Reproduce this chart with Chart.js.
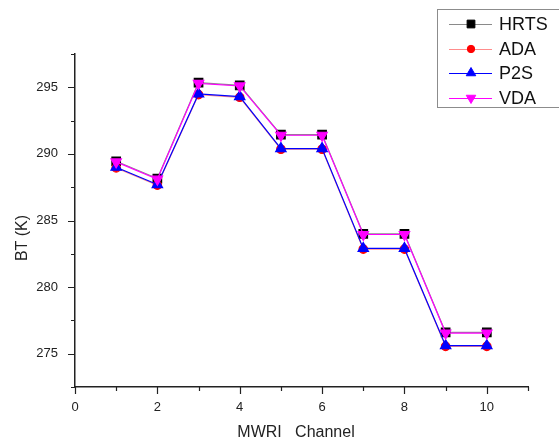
<!DOCTYPE html>
<html>
<head>
<meta charset="utf-8">
<script src="https://cdn.jsdelivr.net/npm/chart.js@4/dist/chart.umd.min.js"></script>
<style>
  html, body { margin: 0; padding: 0; background: #fff; }
  canvas { display: block; }
</style>
</head>
<body>
<canvas id="bt-chart" width="559" height="443"></canvas>
<script>
// MWRI channels and brightness temperatures (K) per method
const channels = [1, 2, 3, 4, 5, 6, 7, 8, 9, 10];
const hrts = [289.45, 288.15, 295.35, 295.15, 291.45, 291.45, 284.0, 284.0, 276.6, 276.6];
const ada = [288.95, 287.65, 294.45, 294.25, 290.35, 290.35, 282.85, 282.85, 275.55, 275.55];
const p2s = [289.0, 287.7, 294.5, 294.3, 290.4, 290.4, 282.9, 282.9, 275.6, 275.6];
const vda = [289.4, 288.1, 295.3, 295.1, 291.4, 291.4, 283.95, 283.95, 276.55, 276.55];

// axis ticks
const xMajorTicks = [0, 2, 4, 6, 8, 10];
const xMinorTicks = [1, 3, 5, 7, 9, 11];
const yMajorTicks = [275, 280, 285, 290, 295];
const yMinorTicks = [272.5, 277.5, 282.5, 287.5, 292.5, 297.5];

const FONT = "'Liberation Sans', Arial, sans-serif";
const canvas = document.getElementById("bt-chart");

function toPoints(values) {
    return channels.map((c, i) => ({ x: c, y: values[i] }));
}

// Tick marks, axis titles and the boxed legend
const decorPlugin = {
    id: "decor",
    afterDraw(chart) {
        const ctx = chart.ctx;
        const xs = chart.scales.x;
        const ys = chart.scales.y;
        const area = chart.chartArea;

        ctx.save();
        ctx.strokeStyle = "#222";
        ctx.lineWidth = 1.2;
        ctx.beginPath();
        yMajorTicks.forEach((v) => {
            const py = Math.round(ys.getPixelForValue(v)) + 0.5;
            ctx.moveTo(area.left, py);
            ctx.lineTo(area.left - 7, py);
        });
        yMinorTicks.forEach((v) => {
            const py = Math.round(ys.getPixelForValue(v)) + 0.5;
            ctx.moveTo(area.left, py);
            ctx.lineTo(area.left - 4, py);
        });
        xMajorTicks.forEach((v) => {
            const px = Math.round(xs.getPixelForValue(v)) + 0.5;
            ctx.moveTo(px, area.bottom);
            ctx.lineTo(px, area.bottom + 7);
        });
        xMinorTicks.forEach((v) => {
            const px = Math.round(xs.getPixelForValue(v)) + 0.5;
            ctx.moveTo(px, area.bottom);
            ctx.lineTo(px, area.bottom + 4);
        });
        ctx.stroke();

        // axis titles
        ctx.fillStyle = "#222";
        ctx.font = "16px " + FONT;
        ctx.textAlign = "center";
        ctx.textBaseline = "middle";
        ctx.fillText("MWRI   Channel", 296, 433);
        ctx.save();
        ctx.translate(23, 238);
        ctx.rotate(-Math.PI / 2);
        ctx.fillText("BT (K)", 0, 0);
        ctx.restore();

        // legend
        ctx.strokeStyle = "#8c8c8c";
        ctx.lineWidth = 1;
        ctx.strokeRect(437.5, 9.5, 140, 98);
        ctx.font = "18px " + FONT;
        ctx.textAlign = "left";
        const rows = [24, 49, 73, 98];
        chart.data.datasets.forEach((ds, i) => {
            const y = rows[i];
            ctx.strokeStyle = ds.borderColor;
            ctx.lineWidth = 1;
            ctx.beginPath();
            ctx.moveTo(449, y + 0.5);
            ctx.lineTo(492, y + 0.5);
            ctx.stroke();
            ctx.fillStyle = ds.pointBackgroundColor;
            ctx.strokeStyle = ds.pointBorderColor;
            Chart.helpers.drawPoint(ctx, {
                pointStyle: ds.pointStyle,
                radius: ds.pointRadius - 0.5,
                rotation: ds.pointRotation || 0,
                borderWidth: 1
            }, 471, y);
            ctx.fillStyle = "#111";
            ctx.fillText(ds.label, 499, y + 1);
        });
        ctx.restore();
    }
};

new Chart(canvas, {
    type: "line",
    data: {
        datasets: [
            {
                label: "HRTS",
                data: toPoints(hrts),
                borderColor: "#8a8a8a",
                borderWidth: 1.2,
                pointStyle: "rect",
                pointRadius: 6,
                pointBackgroundColor: "#000",
                pointBorderColor: "#000",
                order: 4
            },
            {
                label: "ADA",
                data: toPoints(ada),
                borderColor: "#ff8c8c",
                borderWidth: 1.2,
                pointStyle: "circle",
                pointRadius: 4.2,
                pointBackgroundColor: "#ff0000",
                pointBorderColor: "#ff0000",
                order: 3
            },
            {
                label: "P2S",
                data: toPoints(p2s),
                borderColor: "#0000ff",
                borderWidth: 1.2,
                pointStyle: "triangle",
                pointRadius: 6,
                pointBackgroundColor: "#0000ff",
                pointBorderColor: "#0000ff",
                order: 2
            },
            {
                label: "VDA",
                data: toPoints(vda),
                borderColor: "#ff00ff",
                borderWidth: 1.2,
                pointStyle: "triangle",
                pointRotation: 180,
                pointRadius: 6,
                pointBackgroundColor: "#ff00ff",
                pointBorderColor: "#ff00ff",
                order: 1
            }
        ]
    },
    options: {
        responsive: false,
        animation: false,
        layout: { padding: { top: 54, right: 31, left: 0, bottom: 0 } },
        plugins: {
            legend: { display: false },
            tooltip: { enabled: false }
        },
        elements: { line: { tension: 0 } },
        scales: {
            x: {
                type: "linear",
                min: 0,
                max: 11,
                afterBuildTicks: (scale) => {
                    scale.ticks = xMajorTicks.map((v) => ({ value: v }));
                },
                afterFit: (scale) => { scale.height = 56; },
                grid: { display: false },
                border: { display: true, color: "#222", width: 1.5 },
                ticks: {
                    color: "#222",
                    font: { size: 13, family: FONT },
                    padding: 5,
                    maxRotation: 0,
                    autoSkip: false
                }
            },
            y: {
                min: 272.5,
                max: 297.5,
                afterBuildTicks: (scale) => {
                    scale.ticks = yMajorTicks.map((v) => ({ value: v }));
                },
                afterFit: (scale) => { scale.width = 75; },
                grid: { display: false },
                border: { display: true, color: "#222", width: 1.5 },
                ticks: {
                    color: "#222",
                    font: { size: 13, family: FONT },
                    padding: 9,
                    autoSkip: false
                }
            }
        }
    },
    plugins: [decorPlugin]
});
</script>
</body>
</html>
